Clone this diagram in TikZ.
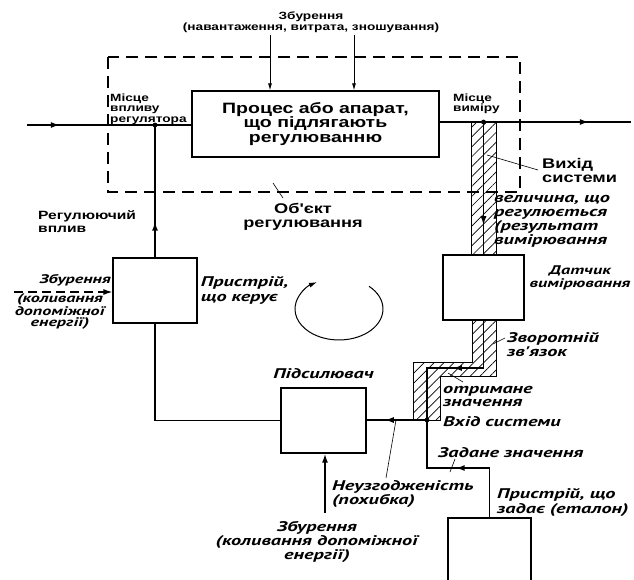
\documentclass[tikz,border=0pt]{standalone}
\usepackage{fontspec}
\usetikzlibrary{arrows.meta, patterns.meta, decorations.markings, positioning}
\newfontfamily\upf[FakeStretch=1.3]{Liberation Sans}
\newfontfamily\itf[FakeStretch=1.45]{PT Sans}
\tikzset{blk/.style={draw, line width=1.3pt, inner sep=0pt},
  sig/.style={line width=1.6pt},
  lead/.style={line width=0.6pt},
  boundary/.style={line width=1.1pt, dash pattern=on 12pt off 7pt},
  hatch/.style={draw, line width=0.9pt, pattern={Lines[angle=45, distance=7pt, line width=0.7pt]}},
  midarr/.style={postaction={decorate}, decoration={markings, mark=at position #1 with {\arrow{Latex[length=9pt, width=6pt]}}}},
  tip/.style={-{Latex[length=9pt, width=6pt]}},
  smalltxt/.style={font=\upf\bfseries\fontsize{10.5}{10.5}\selectfont, inner sep=0pt, align=left},
  bigtxt/.style={font=\upf\bfseries\fontsize{15}{14.5}\selectfont, align=center},
  midtxt/.style={font=\upf\bfseries\fontsize{14}{14}\selectfont, inner sep=0pt, align=left},
  ittxt/.style={font=\itf\bfseries\itshape\fontsize{14}{#1}\selectfont, inner sep=0pt, align=left},
  ittxt/.default=14}

\begin{document}
\begin{tikzpicture}[x=1pt, y=-1pt]
\useasboundingbox (0,0) rectangle (634,579);
% object of control
\draw[boundary] (108,57) rectangle (520,192);
% blocks
\node[blk, bigtxt, minimum width=247pt, minimum height=66pt] (proc) at (315.5,124) {Процес або апарат,\\що підлягають\\регулюванню};
\node[blk, minimum width=84pt, minimum height=65pt] (ctrl) at (155,290.5) {};
\node[blk, minimum width=81pt, minimum height=65pt] (sens) at (483.5,287.5) {};
\node[blk, minimum width=85pt, minimum height=65pt] (amp) at (323.5,420.5) {};
\node[blk, minimum width=83pt, minimum height=90pt] (etal) at (489.5,563) {};
% points
\coordinate (inp) at (27,125);
\coordinate (jL) at (155,125);
\coordinate (outp) at (631,122);
\coordinate (jR) at (483.5,122);
\coordinate (fb1) at (483.5,368);
\coordinate (fb2) at (427,368);
\coordinate (jin) at (427,420);
\coordinate (sp1) at (427,468);
\coordinate (sp2) at (489.5,468);
\coordinate (dT1) at (270,35);
\coordinate (dT2) at (354,35);
\coordinate (dL) at (14,292);
\coordinate (dB) at (325,513);
% hatched feedback path
\path[hatch] (471,122) rectangle (496,255);
\path[hatch] (472,320) -- (472,362) -- (413,362) -- (413,420) -- (440,420) -- (440,376) -- (496,376) -- (496,320) -- cycle;
% signals
\draw[sig, midarr=0.2] (inp) -- (inp -| proc.west);
\draw[sig, midarr=0.78] (proc.east |- outp) -- (outp);
\draw[sig, midarr=0.27] (ctrl.north) -- (jL);
\draw[sig, midarr=0.78] (jR) -- (sens.north);
\draw[sig, midarr=0.5] (sens.south) -- (fb1) -- (fb2) -- (jin);
\draw[sig, midarr=0.7] (jin) -- (amp.east |- jin);
\draw[sig, midarr=0.52] (etal.north) -- (sp2) -- (sp1) -- (jin);
\draw[sig] (amp.west) -- (amp.west -| ctrl.south) -- (ctrl.south);
\draw[sig, tip] (dB) -- (dB |- amp.south);
\draw[line width=1.2pt, dash pattern=on 9pt off 5pt, tip] (dL) -- (dL -| ctrl.west);
\draw[line width=0.8pt, -{Latex[length=7pt, width=4pt]}] (dT1) -- (dT1 |- proc.north);
\draw[line width=0.8pt, -{Latex[length=7pt, width=4pt]}] (dT2) -- (dT2 |- proc.north);
\fill (jL) circle (2.4pt) (jR) circle (2.4pt) (jin) circle (2.4pt);
% loop direction
\draw[line width=1pt, -{Latex[length=8pt, width=5pt]}] (369,286.3) arc[start angle=-47, end angle=240, x radius=44, y radius=31];
% leaders
\draw[lead] (487,155) -- (538,170);
\draw[lead] (273,183) -- (283,198);
\draw[lead] (493,344) -- (505,338);
\draw[lead] (448,373) -- (463,382);
\draw[lead] (396,420) -- (386,478);
\draw[lead] (455,459) -- (450,472);
% labels
\node[smalltxt, align=center] (distT) at (311,22) {Збурення\\(навантаження, витрата, зношування)};
\node[smalltxt, anchor=west] (plc1) at (110,109) {Місце\\впливу\\регулятора};
\node[smalltxt, anchor=west] (plc2) at (453,104) {Місце\\виміру};
\node[midtxt, anchor=west] (outl) at (542,170) {Вихід\\системи};
\node[midtxt, align=center] (objl) at (303,217) {Об'єкт\\регулювання};
\node[smalltxt, font=\upf\bfseries\fontsize{12}{13}\selectfont, anchor=west] (regl) at (38,221.5) {Регулюючий\\вплив};
\node[ittxt, font=\itf\bfseries\itshape\fontsize{12.5}{11}\selectfont, anchor=east] (distL) at (111,280) {Збурення};
\node[ittxt, font=\itf\bfseries\itshape\fontsize{12.5}{11}\selectfont, align=center] (distL2) at (60,311.5) {(коливання\\допоміжної\\енергії)};
\node[ittxt=15, right=3pt of ctrl] (ctrll) {Пристрій,\\що керує};
\node[ittxt, anchor=west] (vall) at (494,221) {величина, що\\регулюється\\(результат\\вимірювання};
\node[ittxt, font=\itf\bfseries\itshape\fontsize{12.5}{12.5}\selectfont, align=center] (sensl) at (580,278) {Датчик\\вимірювання};
\node[ittxt, anchor=west] (fbl) at (507,345) {Зворотній\\зв'язок};
\node[ittxt, above=8pt of amp] (ampl) {Підсилювач};
\node[ittxt=13, anchor=west] (recl) at (443,396.5) {отримане\\значення};
\node[ittxt, anchor=west] (inl) at (443,422) {Вхід системи};
\node[ittxt, anchor=west] (spl) at (438,453) {Задане значення};
\node[ittxt, anchor=west] (errl) at (332,494) {Неузгодженість\\(похибка)};
\node[ittxt=15, anchor=west] (etall) at (497,502.5) {Пристрій, що\\задає (еталон)};
\node[ittxt=12, align=center] (distB) at (317,542) {Збурення\\(коливання допоміжної\\енергії)};
\end{tikzpicture}
\end{document}
